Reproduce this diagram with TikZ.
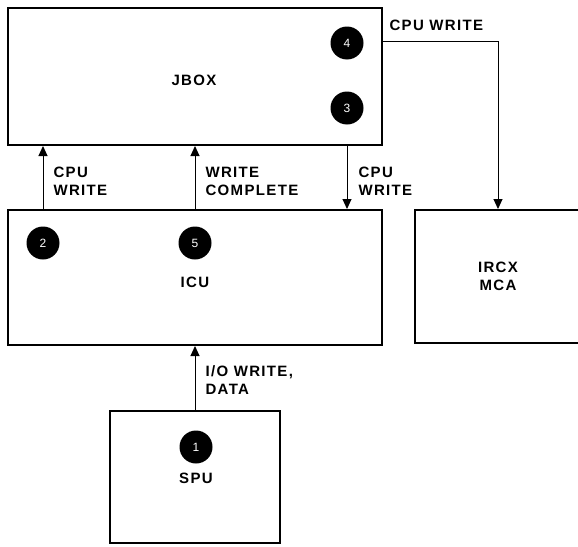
\documentclass[tikz,border=0pt]{standalone}
\usepackage{fontspec}
\setmainfont{Liberation Sans}
\newfontfamily\labelfont{Liberation Sans}[LetterSpace=9]
\usetikzlibrary{arrows.meta}

\begin{document}
\begin{tikzpicture}[x=1pt, y=-1pt,
    font=\labelfont\bfseries\fontsize{15}{18}\selectfont,
    unit/.style={rectangle, draw, line width=2pt, inner sep=0pt, align=center},
    badge/.style={circle, fill=black, minimum size=33pt, inner sep=0pt, text=white,
      font=\normalfont\fontsize{12}{13}\selectfont},
    flow/.style={line width=1pt, -{Triangle[length=10pt, width=9pt]}},
    tag/.style={anchor=west, align=left}]
  \useasboundingbox (0,0) rectangle (578,546);
  \clip (0,0) rectangle (578,546);
  % --- boxes ---
  \node[unit, minimum width=374pt, minimum height=137pt] (jbox) at (195,76.5) {};
  \node (jboxtxt) at (194,80) {JBOX};
  \node[unit, minimum width=374pt, minimum height=135pt] (icu) at (195,277.5) {};
  \node (icutxt) at (195,282) {ICU};
  \node[unit, minimum width=166pt, minimum height=133pt] (ircx) at (498,276.5) {IRCX\\MCA};
  \node[unit, minimum width=170pt, minimum height=132pt] (spu) at (195,477) {};
  \node (sputxt) at (196,478) {SPU};
  % --- numbered steps ---
  \node[badge] (n1) at (196,447) {1};
  \node[badge] (n2) at (43,243) {2};
  \node[badge] (n3) at (347,108) {3};
  \node[badge] (n4) at (347,43) {4};
  \node[badge] (n5) at (195,243) {5};
  % --- connectors ---
  \draw[flow] (spu.north -| n5) -- (icu.south -| n5);
  \draw[flow] (icu.north -| n2) -- (jbox.south -| n2);
  \draw[flow] (icu.north -| n5) -- (jbox.south -| n5);
  \draw[flow] (jbox.south -| n3) -- (icu.north -| n3);
  \draw[flow] (jbox.east |- 0,41) -| (ircx.north);
  % --- signal names ---
  \node[tag] (tio) at (202,380) {I/O WRITE,\\DATA};
  \node[tag] (tcpu1) at (50,181) {CPU\\WRITE};
  \node[tag] (tdone) at (202,181) {WRITE\\COMPLETE};
  \node[tag] (tcpu2) at (355,181) {CPU\\WRITE};
  \node[tag] (tcpu3) at (386,25) {CPU WRITE};
\end{tikzpicture}
\end{document}
